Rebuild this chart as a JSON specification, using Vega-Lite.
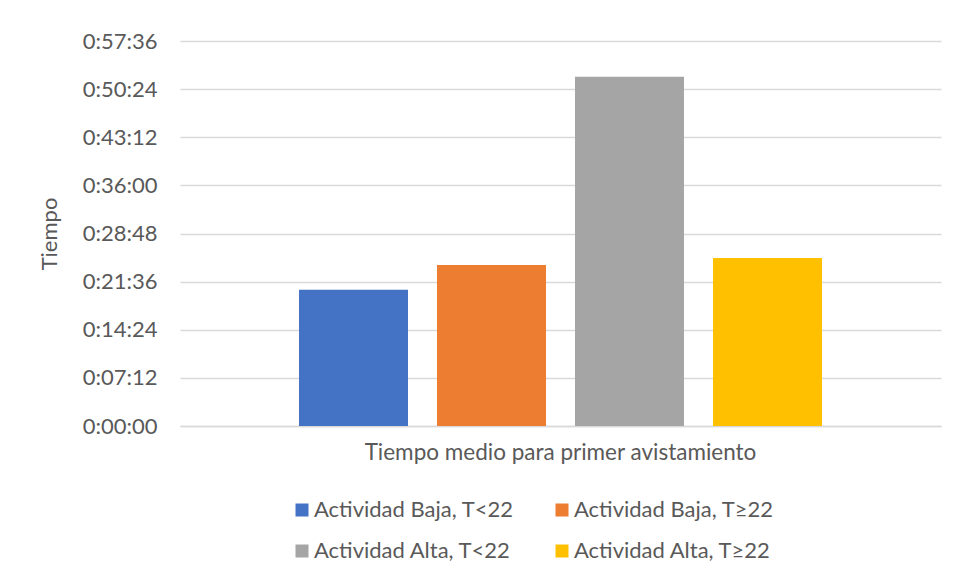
{
  "$schema": "https://vega.github.io/schema/vega-lite/v6.json",
  "width": 761,
  "height": 385,
  "autosize": {"type": "none"},
  "padding": {"left": 180, "top": 41, "right": 17, "bottom": 157},
  "background": "#ffffff",
  "config": {
    "view": {"stroke": null},
    "font": "Lato",
    "axis": {"labelFont": "Lato", "titleFont": "Lato", "labelColor": "#595959", "titleColor": "#595959"},
    "legend": {"labelFont": "Lato"}
  },
  "data": {
    "values": [
      {"cat": "Tiempo medio para primer avistamiento", "serie": "Actividad Baja, T<22", "seg": 1222},
      {"cat": "Tiempo medio para primer avistamiento", "serie": "Actividad Baja, T≥22", "seg": 1446},
      {"cat": "Tiempo medio para primer avistamiento", "serie": "Actividad Alta, T<22", "seg": 3134},
      {"cat": "Tiempo medio para primer avistamiento", "serie": "Actividad Alta, T≥22", "seg": 1508}
    ]
  },
  "mark": {"type": "bar"},
  "encoding": {
    "x": {
      "field": "cat",
      "type": "nominal",
      "scale": {"paddingInner": 0, "paddingOuter": 0.2275},
      "axis": {
        "title": null,
        "labelAngle": 0,
        "ticks": false,
        "tickSize": 0,
        "domainColor": "#d9d9d9",
        "domainWidth": 1.5,
        "labelFontSize": 22.5,
        "labelPadding": 15,
        "labelLimit": 0
      }
    },
    "xOffset": {
      "field": "serie",
      "type": "nominal",
      "sort": ["Actividad Baja, T<22", "Actividad Baja, T≥22", "Actividad Alta, T<22", "Actividad Alta, T≥22"],
      "scale": {"paddingInner": 0.21, "paddingOuter": 0}
    },
    "y": {
      "field": "seg",
      "type": "quantitative",
      "scale": {"domain": [0, 3456], "nice": false},
      "axis": {
        "values": [0, 432, 864, 1296, 1728, 2160, 2592, 3024, 3456],
        "labelExpr": "'0:' + (floor(datum.value/60) < 10 ? '0' : '') + floor(datum.value/60) + ':' + (datum.value % 60 < 10 ? '0' : '') + (datum.value % 60)",
        "title": "Tiempo",
        "titleFontSize": 22,
        "titleFontWeight": "normal",
        "titlePadding": 21,
        "domain": false,
        "ticks": false,
        "tickSize": 0,
        "labelPadding": 23,
        "labelFontSize": 22,
        "gridColor": "#d9d9d9",
        "gridWidth": 1.5
      }
    },
    "color": {
      "field": "serie",
      "type": "nominal",
      "scale": {
        "domain": ["Actividad Baja, T<22", "Actividad Baja, T≥22", "Actividad Alta, T<22", "Actividad Alta, T≥22"],
        "range": ["#4472c4", "#ed7d31", "#a5a5a5", "#ffc000"]
      },
      "legend": {
        "title": null,
        "orient": "none",
        "direction": "horizontal",
        "legendX": 111,
        "legendY": 458,
        "columns": 2,
        "columnPadding": 37,
        "rowPadding": 19,
        "symbolType": "square",
        "symbolSize": 169,
        "symbolStrokeWidth": 0,
        "labelOffset": 1,
        "labelFontSize": 22,
        "labelColor": "#595959",
        "labelLimit": 0
      }
    }
  }
}
